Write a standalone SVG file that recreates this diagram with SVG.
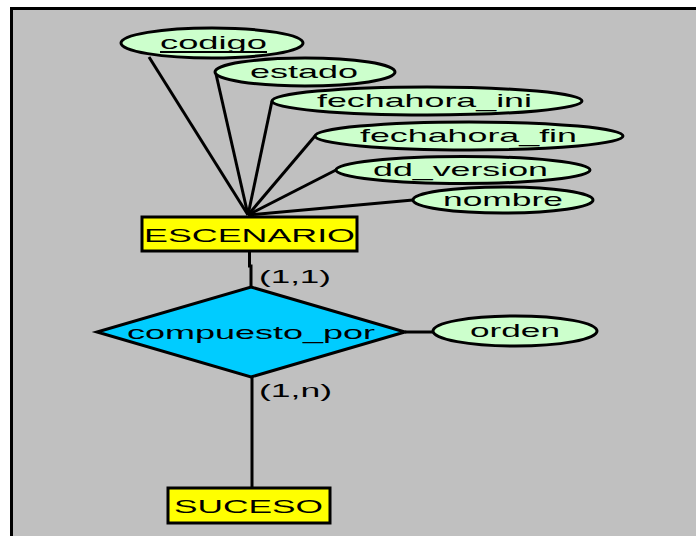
<svg xmlns="http://www.w3.org/2000/svg" width="696" height="536" viewBox="0 0 696 536">
  <style>
    .attr { fill: #ccffcc; stroke: #000; stroke-width: 3; }
    .ent { fill: #ffff00; stroke: #000; stroke-width: 3; }
    .rel { fill: #00ccff; stroke: #000; stroke-width: 3; stroke-linejoin: miter; }
    .lbl { font-family: "Liberation Sans", Arial, sans-serif; font-size: 19px; fill: #000; }
    .card { font-family: "Liberation Sans", Arial, sans-serif; font-size: 18px; fill: #000; }
    #connectors line, #connectors path { stroke: #000; stroke-width: 3; fill: none; }
  </style>

  <!-- canvas -->
  <rect x="0" y="0" width="696" height="536" fill="#ffffff"/>
  <rect x="11" y="9" width="690" height="532" fill="#c0c0c0"/>
  <path d="M11.5 536 V8.5 H696" fill="none" stroke="#000" stroke-width="3"/>

  <g id="connectors">
    <line x1="149" y1="57" x2="248" y2="215"/>
    <line x1="216" y1="74" x2="248" y2="215"/>
    <line x1="272" y1="101" x2="248" y2="215"/>
    <line x1="315" y1="136" x2="248" y2="215"/>
    <line x1="336" y1="170" x2="248" y2="215"/>
    <line x1="413" y1="200" x2="248" y2="215"/>
    <path d="M249.5 251 V266 H251 V288"/>
    <line x1="405" y1="332" x2="434" y2="332"/>
    <line x1="252" y1="377" x2="252" y2="489"/>
  </g>

  <g id="codigo">
    <ellipse class="attr" cx="212" cy="43" rx="91" ry="15"/>
    <text class="lbl" x="160" y="49" textLength="107" lengthAdjust="spacingAndGlyphs">codigo</text>
    <line x1="160" y1="52" x2="267" y2="52" stroke="#000" stroke-width="2"/>
  </g>
  <g id="estado">
    <ellipse class="attr" cx="305" cy="72" rx="90" ry="14"/>
    <text class="lbl" x="250" y="78" textLength="108" lengthAdjust="spacingAndGlyphs">estado</text>
  </g>
  <g id="fechahora_ini">
    <ellipse class="attr" cx="427" cy="101" rx="155" ry="14"/>
    <text class="lbl" x="317" y="107" textLength="215" lengthAdjust="spacingAndGlyphs">fechahora_ini</text>
  </g>
  <g id="fechahora_fin">
    <ellipse class="attr" cx="469" cy="136" rx="154" ry="14"/>
    <text class="lbl" x="360" y="142" textLength="217" lengthAdjust="spacingAndGlyphs">fechahora_fin</text>
  </g>
  <g id="dd_version">
    <ellipse class="attr" cx="463" cy="170" rx="127" ry="13.5"/>
    <text class="lbl" x="373" y="176" textLength="175" lengthAdjust="spacingAndGlyphs">dd_version</text>
  </g>
  <g id="nombre">
    <ellipse class="attr" cx="503" cy="200" rx="90" ry="13"/>
    <text class="lbl" x="443" y="206" textLength="120" lengthAdjust="spacingAndGlyphs">nombre</text>
  </g>

  <g id="ESCENARIO">
    <rect class="ent" x="142" y="217" width="215" height="34"/>
    <text class="lbl" x="144" y="242" textLength="211" lengthAdjust="spacingAndGlyphs">ESCENARIO</text>
  </g>

  <text class="card" x="259" y="283" textLength="72" lengthAdjust="spacingAndGlyphs">(1,1)</text>

  <g id="compuesto_por">
    <polygon class="rel" points="251,287 405,332 251,377 97,332"/>
    <text class="lbl" x="127" y="339" textLength="248" lengthAdjust="spacingAndGlyphs">compuesto_por</text>
  </g>

  <g id="orden">
    <ellipse class="attr" cx="515" cy="331" rx="82" ry="15"/>
    <text class="lbl" x="470" y="337" textLength="90" lengthAdjust="spacingAndGlyphs">orden</text>
  </g>

  <text class="card" x="259" y="397" textLength="73" lengthAdjust="spacingAndGlyphs">(1,n)</text>

  <g id="SUCESO">
    <rect class="ent" x="168" y="488" width="162" height="35"/>
    <text class="lbl" x="174" y="513" textLength="149" lengthAdjust="spacingAndGlyphs">SUCESO</text>
  </g>
</svg>
